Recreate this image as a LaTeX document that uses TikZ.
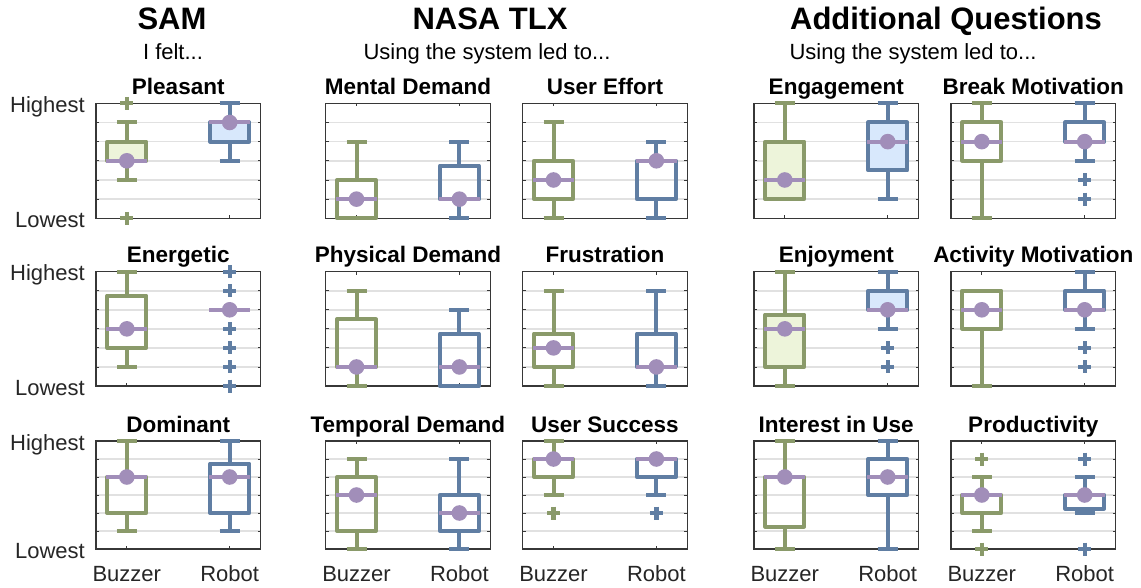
\documentclass[tikz,border=0pt]{standalone}
\usepackage{fontspec}
\setmainfont{Liberation Sans}
\definecolor{gedge}{RGB}{138,154,106}
\definecolor{gfill}{RGB}{237,244,218}
\definecolor{bedge}{RGB}{96,126,163}
\definecolor{bfill}{RGB}{216,232,252}
\definecolor{medc}{RGB}{161,142,185}
\definecolor{gridc}{RGB}{225,225,225}
\definecolor{axisc}{RGB}{55,55,55}
\definecolor{txtc}{RGB}{38,38,38}
\tikzset{
  gridline/.style={draw=gridc, line width=1.5},
  tickline/.style={draw=axisc, line width=0.9},
  frame/.style={draw=axisc, line width=1.3},
  ttl/.style={font=\fontsize{22.5}{26}\selectfont\bfseries, anchor=base, text=black, inner sep=0},
  hdr/.style={font=\fontsize{31}{36}\selectfont\bfseries, anchor=base, text=black, inner sep=0},
  sub/.style={font=\fontsize{22}{26}\selectfont, anchor=base, text=black, inner sep=0},
  ylab/.style={font=\fontsize{22}{26}\selectfont, anchor=base east, text=txtc, inner sep=0},
  xlab/.style={font=\fontsize{22}{26}\selectfont, anchor=base, text=txtc, inner sep=0},
  bline/.style={line width=4, line join=round},
}
\newcommand\panel[5]{%
  \pgfmathsetmacro\pX{#1}\pgfmathsetmacro\pT{#2}\pgfmathsetmacro\pB{#3}%
  \pgfmathsetmacro\pS{(#3-#2)/6}\pgfmathsetmacro\pE{#1+164.5}%
  \pgfmathsetmacro\xa{#1+30.8}\pgfmathsetmacro\xb{#1+133.7}%
  \foreach \k in {1,...,5}{\draw[gridline] (\pX,{\pB-\k*\pS}) -- (\pE,{\pB-\k*\pS});}
  \foreach \k in {0,...,6}{\draw[tickline] (\pX,{\pB-\k*\pS}) -- ++(3,0) (\pE,{\pB-\k*\pS}) -- ++(-3,0);}
  \draw[tickline] (\xa,\pB) -- ++(0,-3) (\xb,\pB) -- ++(0,-3) (\xa,\pT) -- ++(0,3) (\xb,\pT) -- ++(0,3);
  \draw[frame] (\pX,\pT) rectangle (\pE,\pB);
  \node[ttl] (#5) at ({(\pX+\pE)/2},{\pT-9}) {#4};
}
% x, wlo, q1, med, q3, whi, edge, fill
\newcommand\bxp[8]{%
  \draw[bline, draw=#7] (#1,{\pB-(#2)*\pS}) -- (#1,{\pB-(#3)*\pS})
     (#1-10,{\pB-(#2)*\pS}) -- (#1+10,{\pB-(#2)*\pS})
     (#1,{\pB-(#6)*\pS}) -- (#1,{\pB-(#5)*\pS})
     (#1-10,{\pB-(#6)*\pS}) -- (#1+10,{\pB-(#6)*\pS});
  \draw[bline, draw=#7, fill=#8] (#1-19.5,{\pB-(#3)*\pS}) rectangle (#1+19.5,{\pB-(#5)*\pS});
  \medmark{#1}{#4}%
}
\newcommand\medmark[2]{%
  \draw[line width=4, draw=medc] (#1-20.5,{\pB-(#2)*\pS}) -- (#1+20.5,{\pB-(#2)*\pS});
  \fill[medc] (#1,{\pB-(#2)*\pS}) circle (7.8);
}
\newcommand\outl[3]{%
  \draw[line width=4.2, draw=#3] (#1-6.5,{\pB-(#2)*\pS}) -- (#1+6.5,{\pB-(#2)*\pS})
     (#1,{\pB-(#2)*\pS-6.5}) -- (#1,{\pB-(#2)*\pS+6.5});
}
\begin{document}
\begin{tikzpicture}[x=1pt,y=-1pt]
\useasboundingbox (0,0) rectangle (1141,588);
\fill[white] (0,0) rectangle (1141,588);
% headers
\node[hdr] (hsam) at (172,30) {SAM};
\node[sub] (ssam) at (173,60) {I felt...};
\node[hdr] (hnasa) at (490,30) {NASA TLX};
\node[sub] (snasa) at (487,60) {Using the system led to...};
\node[hdr] (hadd) at (946,30) {Additional Questions};
\node[sub] (sadd) at (913,60) {Using the system led to...};
% y labels
\node[ylab] (hi1) at (85,112.3) {Highest};
\node[ylab] (lo1) at (85,227.3) {Lowest};
\node[ylab] (hi2) at (85,280.7) {Highest};
\node[ylab] (lo2) at (85,395) {Lowest};
\node[ylab] (hi3) at (85,450) {Highest};
\node[ylab] (lo3) at (85,558) {Lowest};
% ---------------- row 1
\panel{96}{103.3}{218.3}{Pleasant}{tPleasant}
\bxp{\xa}{2}{3}{3}{4}{5}{gedge}{gfill}
\outl{\xa}{6}{gedge}\outl{\xa}{0}{gedge}
\bxp{\xb}{3}{4}{5}{5}{6}{bedge}{bfill}
\panel{325.7}{103.3}{218.3}{Mental Demand}{tMental}
\bxp{\xa}{0}{0}{1}{2}{4}{gedge}{none}
\bxp{\xb}{0}{1}{1}{2.75}{4}{bedge}{none}
\panel{522.7}{103.3}{218.3}{User Effort}{tEffort}
\bxp{\xa}{0}{1}{2}{3}{5}{gedge}{none}
\bxp{\xb}{0}{1}{3}{3}{4}{bedge}{none}
\panel{754}{103.3}{218.3}{Engagement}{tEngage}
\bxp{\xa}{1}{1}{2}{4}{6}{gedge}{gfill}
\bxp{\xb}{1}{2.5}{4}{5}{6}{bedge}{bfill}
\panel{951}{103.3}{218.3}{Break Motivation}{tBreak}
\bxp{\xa}{0}{3}{4}{5}{6}{gedge}{none}
\bxp{\xb}{3}{4}{4}{5}{6}{bedge}{none}
\outl{\xb}{2}{bedge}\outl{\xb}{1}{bedge}
% ---------------- row 2
\panel{96}{271.7}{386}{Energetic}{tEnergetic}
\bxp{\xa}{1}{2}{3}{4.75}{6}{gedge}{none}
\medmark{\xb}{4}
\outl{\xb}{6}{bedge}\outl{\xb}{5}{bedge}\outl{\xb}{3}{bedge}\outl{\xb}{2}{bedge}\outl{\xb}{1}{bedge}\outl{\xb}{0}{bedge}
\panel{325.7}{271.7}{386}{Physical Demand}{tPhysical}
\bxp{\xa}{0}{1}{1}{3.5}{5}{gedge}{none}
\bxp{\xb}{0}{0}{1}{2.75}{4}{bedge}{none}
\panel{522.7}{271.7}{386}{Frustration}{tFrust}
\bxp{\xa}{0}{1}{2}{2.75}{5}{gedge}{none}
\bxp{\xb}{0}{1}{1}{2.75}{5}{bedge}{none}
\panel{754}{271.7}{386}{Enjoyment}{tEnjoy}
\bxp{\xa}{0}{1}{3}{3.75}{6}{gedge}{gfill}
\bxp{\xb}{3}{4}{4}{5}{6}{bedge}{bfill}
\outl{\xb}{2}{bedge}\outl{\xb}{1}{bedge}
\panel{951}{271.7}{386}{Activity Motivation}{tActivity}
\bxp{\xa}{0}{3}{4}{5}{5}{gedge}{none}
\bxp{\xb}{3}{4}{4}{5}{6}{bedge}{none}
\outl{\xb}{2}{bedge}\outl{\xb}{1}{bedge}
% ---------------- row 3
\panel{96}{441}{549}{Dominant}{tDominant}
\bxp{\xa}{1}{2}{4}{4}{6}{gedge}{none}
\bxp{\xb}{1}{2}{4}{4.75}{6}{bedge}{none}
\node[xlab] (xb1) at (\xa,581.7) {Buzzer};
\node[xlab] (xr1) at (\xb,581.7) {Robot};
\panel{325.7}{441}{549}{Temporal Demand}{tTemporal}
\bxp{\xa}{0}{1}{3}{4}{5}{gedge}{none}
\bxp{\xb}{0}{1}{2}{3}{5}{bedge}{none}
\node[xlab] (xb2) at (\xa,581.7) {Buzzer};
\node[xlab] (xr2) at (\xb,581.7) {Robot};
\panel{522.7}{441}{549}{User Success}{tSuccess}
\bxp{\xa}{3}{4}{5}{5}{6}{gedge}{none}
\outl{\xa}{2}{gedge}
\bxp{\xb}{3}{4}{5}{5}{5}{bedge}{none}
\outl{\xb}{2}{bedge}
\node[xlab] (xb3) at (\xa,581.7) {Buzzer};
\node[xlab] (xr3) at (\xb,581.7) {Robot};
\panel{754}{441}{549}{Interest in Use}{tInterest}
\bxp{\xa}{0}{1.25}{4}{4}{6}{gedge}{none}
\bxp{\xb}{0}{3}{4}{5}{6}{bedge}{none}
\node[xlab] (xb4) at (\xa,581.7) {Buzzer};
\node[xlab] (xr4) at (\xb,581.7) {Robot};
\panel{951}{441}{549}{Productivity}{tProd}
\bxp{\xa}{1}{2}{3}{3}{4}{gedge}{none}
\outl{\xa}{5}{gedge}\outl{\xa}{0}{gedge}
\bxp{\xb}{2}{2.25}{3}{3}{4}{bedge}{none}
\outl{\xb}{5}{bedge}\outl{\xb}{0}{bedge}
\node[xlab] (xb5) at (\xa,581.7) {Buzzer};
\node[xlab] (xr5) at (\xb,581.7) {Robot};
\end{tikzpicture}
\end{document}
